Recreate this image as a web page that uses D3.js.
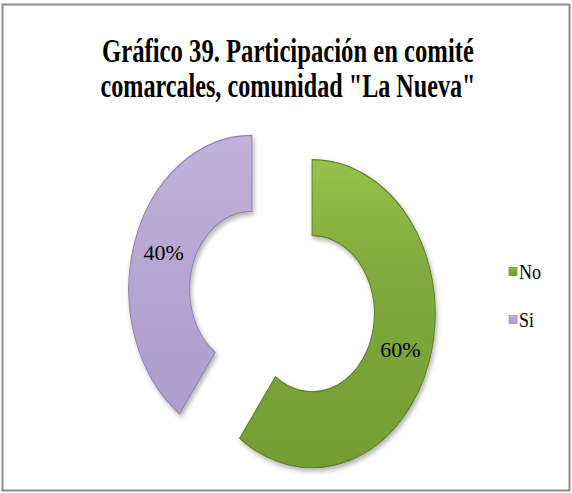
<!DOCTYPE html>
<html><head><meta charset="utf-8">
<script src="https://cdn.jsdelivr.net/npm/d3@7"></script>
</head><body style="margin:0">
<svg id="chart" width="572" height="493" style="display:block"></svg>
<script>
const categories = ["No", "Si"];
const values = [60, 40];
const labels = ["60%", "40%"];
const titleLines = ["Gráfico 39. Participación en comité", "comarcales, comunidad \"La Nueva\""];

const FONT = '"Liberation Serif"';
const svg = d3.select("#chart");
const defs = svg.append("defs");

const f = defs.append("filter").attr("id","shadow").attr("x","-20%").attr("y","-20%").attr("width","140%").attr("height","140%");
f.append("feDropShadow").attr("dx",2).attr("dy",3).attr("stdDeviation",2.5).attr("flood-color","#000").attr("flood-opacity",0.3);

const gradSpec = {
  No: [["0%","#96c24a"],["35%","#80aa3c"],["100%","#749d33"]],
  Si: [["0%","#c0b2da"],["50%","#b5a6d1"],["100%","#ad9dcc"]]
};
Object.entries(gradSpec).forEach(([k, stops]) => {
  const g = defs.append("linearGradient").attr("id","g"+k).attr("x1",0).attr("y1",0).attr("x2",0).attr("y2",1);
  stops.forEach(s => g.append("stop").attr("offset",s[0]).attr("stop-color",s[1]));
});
const strokeCol = {No:"#5d7f27", Si:"#8f80ae"};

// helper: text condensed horizontally to a target width, whatever font resolves
function fitText(x, y, str, size, weight, anchor, targetW) {
  const g = svg.append("g");
  const t = g.append("text").attr("x",0).attr("y",y)
    .attr("text-anchor",anchor)
    .style("font-family",FONT)
    .attr("font-weight",weight).attr("font-size",size)
    .attr("fill","#000").text(str);
  const w = t.node().getComputedTextLength() || targetW;
  const s = Math.min(1, targetW / w);
  g.attr("transform",`translate(${x},0) scale(${s},1)`);
  return t;
}

// frame
svg.append("rect").attr("x",2.5).attr("y",4.5).attr("width",567).attr("height",486)
  .attr("fill","#fff").attr("stroke","#8c8c8c").attr("stroke-width",2);

// title
const titleW = [372, 375];
titleLines.forEach((t,i) => fitText(288, 62 + i*35, t, 34, "bold", "middle", titleW[i]));

// donut
const R = 154, r = 78, explode = 39.5, sx = 0.8;
const cx = 282, cy = 301.5;
const pie = d3.pie().sort(null).value(d => d.value);
const arcs = pie(categories.map((c,i) => ({cat:c, value:values[i], label:labels[i]})));
const arc = d3.arc().innerRadius(r).outerRadius(R);
const labelArc = d3.arc().innerRadius((r+R)/2).outerRadius((r+R)/2);

const donut = svg.append("g").attr("transform",`translate(${cx},${cy}) scale(${sx},1)`);
arcs.forEach(a => {
  const mid = (a.startAngle + a.endAngle)/2;
  const ox = Math.sin(mid)*explode, oy = -Math.cos(mid)*explode;
  donut.append("path").attr("d", arc(a))
    .attr("transform",`translate(${ox},${oy})`)
    .attr("fill",`url(#g${a.data.cat})`)
    .attr("stroke",strokeCol[a.data.cat]).attr("stroke-width",1.2)
    .attr("filter","url(#shadow)");
});
arcs.forEach(a => {
  const mid = (a.startAngle + a.endAngle)/2;
  const ox = Math.sin(mid)*explode, oy = -Math.cos(mid)*explode;
  const c = labelArc.centroid(a);
  const px = cx + (c[0]+ox)*sx, py = cy + c[1] + oy;
  fitText(px, py + 7, a.data.label, 22, "normal", "middle", 42);
});

// legend
const legendY = [272, 320];
const legendW = [22, 15];
categories.forEach((c,i) => {
  svg.append("rect").attr("x",509).attr("y",legendY[i]-4.5).attr("width",8).attr("height",8)
    .attr("fill",`url(#g${c})`).attr("stroke",strokeCol[c]).attr("stroke-width",0.6);
  fitText(519, legendY[i] + 7, c, 21, "normal", "start", legendW[i]);
});
</script>
</body></html>
